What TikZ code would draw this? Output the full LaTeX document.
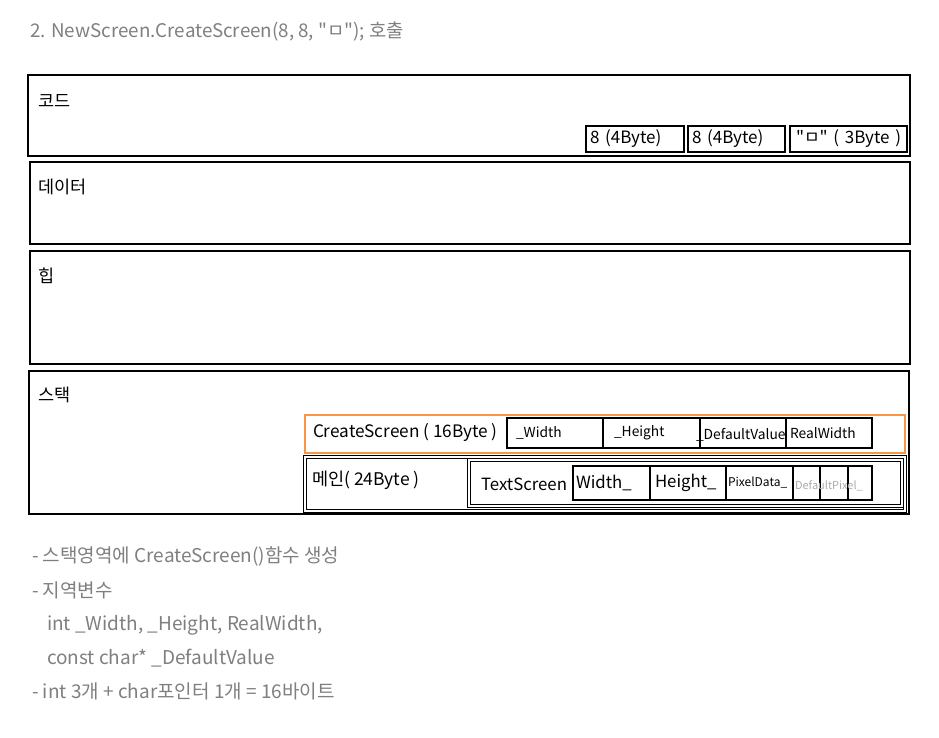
\documentclass[tikz,border=0pt]{standalone}
\usepackage{fontspec}
\setmainfont{Noto Sans CJK KR}
\usetikzlibrary{positioning}
\definecolor{notegray}{HTML}{7F7F7F}
\definecolor{fadegray}{HTML}{ABABAB}
\definecolor{frameorange}{HTML}{F79646}
\tikzset{every node/.style={inner sep=0pt, outer sep=0pt},
         area/.style={draw, line width=1.6pt, anchor=north west, minimum height=#1, minimum width=880pt},
         areaname/.style={anchor=west, font=\fontsize{17.5}{20}\selectfont},
         cell/.style={draw, line width=1.8pt, text width=#1, anchor=west, align=left},
         note/.style={anchor=west, text=notegray, font=\fontsize{19}{22}\selectfont}}

\begin{document}
\begin{tikzpicture}[x=1pt,y=-1pt]
   \useasboundingbox (0,0) rectangle (939,737);
   \node[note, font=\fontsize{18.8}{22}\selectfont] (title) at (30,32) {2. NewScreen.CreateScreen(8, 8, \textquotedbl ㅁ\textquotedbl); 호출};

   \begin{scope}
    \node[area=81pt, minimum width=882pt] (code) at (28,75) {};
    \node[area=82pt] (data) at (30,162) {};
    \node[area=113pt] (heap) at (30,251) {};
    \node[area=143pt] (stack) at (29,371) {};
    \node[areaname] (codename)  at (38,101) {코드};
    \node[areaname] (dataname)  at (38,187) {데이터};
    \node[areaname] (heapname)  at (38,276) {힙};
    \node[areaname] (stackname) at (38,395) {스택};
   \end{scope}

   \begin{scope}[every node/.append style={minimum height=26pt, font=\fontsize{17}{20}\selectfont}]
    \node[cell=98pt] (arg1) at (586,139) {\hspace*{4pt}8 (4Byte)};
    \node[cell=97pt, right=4pt of arg1] (arg2) {\hspace*{4pt}8 (4Byte)};
    \node[cell=117pt, right=5pt of arg2] (arg3) {\hspace*{6pt}\textquotedbl ㅁ\textquotedbl\ ( 3Byte )};
   \end{scope}

   \node[draw=frameorange, line width=1.8pt, anchor=north west, minimum width=600pt, minimum height=38pt] (create) at (305,415) {};
   \node[anchor=west, font=\fontsize{17.2}{20}\selectfont] (createname) at (313,432) {CreateScreen ( 16Byte )};
   \begin{scope}[every node/.append style={minimum height=30pt, font=\fontsize{13.8}{16}\selectfont}]
    \node[cell=96pt] (width) at (507,433) {\hspace*{9pt}\_Width};
    \node[cell=97pt, right=0pt of width] (height) {\hspace*{11pt}\_Height};
    \node[cell=86pt, right=0pt of height] (defval) {};
    \node[cell=86pt, right=0pt of defval] (realw) {\hspace*{4pt}RealWidth};
    \node[anchor=west] (defvaltext) at (696,435) {\_DefaultValue};
   \end{scope}

   \node[draw, double, line width=1pt, double distance=1.6pt, anchor=north west, minimum width=600pt, minimum height=54pt] (main) at (305,457) {};
   \node[anchor=west, font=\fontsize{17.5}{20}\selectfont] (mainname) at (312,480) {메인( 24Byte )};
   \node[draw, double, line width=1pt, double distance=1.6pt, anchor=north west, minimum width=433pt, minimum height=46pt] (textscreen) at (469,460) {};
   \node[anchor=west, font=\fontsize{16.8}{19}\selectfont] (tsname) at (481,484) {TextScreen};
   \begin{scope}[every node/.append style={minimum height=34pt}]
    \node[cell=77pt, font=\fontsize{16.8}{19}\selectfont] (wid) at (573,483) {\hspace*{3pt}Width\_};
    \node[cell=76pt, right=0pt of wid, font=\fontsize{16.8}{19}\selectfont] (hei) {\hspace*{5pt}Height\_};
    \node[cell=67pt, right=0pt of hei, font=\fontsize{12}{14}\selectfont] (pix) {\hspace*{2pt}PixelData\_};
    \node[cell=27pt, right=0pt of pix, line width=1.4pt] (dp1) {};
    \node[cell=28pt, right=0pt of dp1, line width=1.4pt] (dp2) {};
    \node[cell=24pt, right=0pt of dp2, line width=1.4pt] (dp3) {};
    \node[anchor=west, text=fadegray, font=\fontsize{11}{13}\selectfont] (dptext) at (795,486) {DefaultPixel\_};
   \end{scope}

   \node[note] (line1) at (32,556) {- 스택영역에 CreateScreen()함수 생성};
   \node[note] (line2) at (32,590) {- 지역변수};
   \node[note] (line3) at (47,625) {int \_Width, \_Height, RealWidth,};
   \node[note] (line4) at (47,658) {const char* \_DefaultValue};
   \node[note] (line5) at (32,691) {- int 3개 + char포인터 1개 = 16바이트};
  \end{tikzpicture}
\end{document}
